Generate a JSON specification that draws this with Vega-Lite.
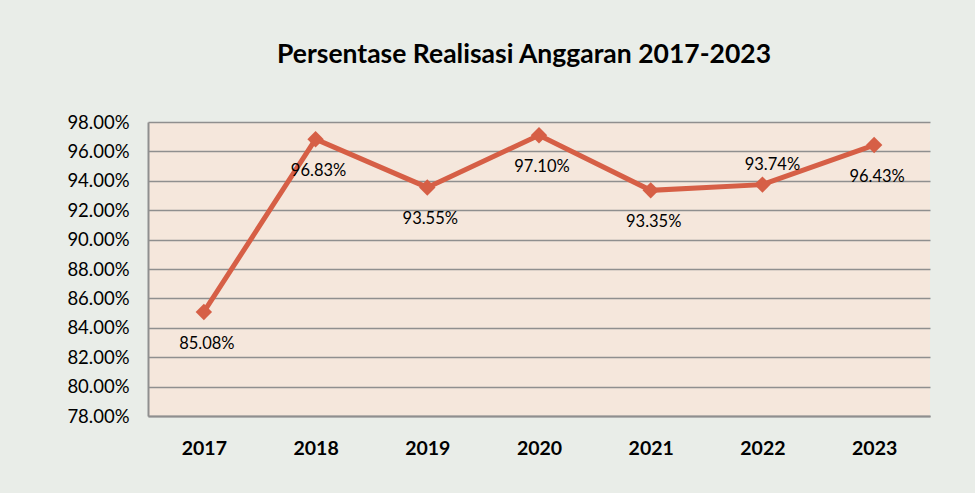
{
  "$schema": "https://vega.github.io/schema/vega-lite/v6.json",
  "autosize": {"type": "none"},
  "width": 782,
  "height": 294,
  "padding": {"left": 148, "top": 122, "right": 45, "bottom": 77},
  "background": "#E9EDE8",
  "title": {
    "text": "Persentase Realisasi Anggaran 2017-2023",
    "font": "Lato",
    "fontSize": 26.5,
    "fontWeight": "bold",
    "color": "#000000",
    "anchor": "middle",
    "dx": -15,
    "offset": 45
  },
  "data": {
    "values": [
      {"tahun": "2017", "persen": 0.8508},
      {"tahun": "2018", "persen": 0.9683},
      {"tahun": "2019", "persen": 0.9355},
      {"tahun": "2020", "persen": 0.9710},
      {"tahun": "2021", "persen": 0.9335},
      {"tahun": "2022", "persen": 0.9374},
      {"tahun": "2023", "persen": 0.9643}
    ]
  },
  "encoding": {
    "x": {
      "field": "tahun",
      "type": "ordinal",
      "scale": {"type": "point", "padding": 0.5},
      "axis": {
        "title": null,
        "labelAngle": 0,
        "labelFont": "Lato",
        "labelFontSize": 19.5,
        "labelFontWeight": "bold",
        "labelColor": "#000000",
        "labelPadding": 23,
        "ticks": false,
        "domainColor": "#8f8f8f",
        "domainWidth": 2,
        "grid": false
      }
    },
    "y": {
      "field": "persen",
      "type": "quantitative",
      "scale": {"domain": [0.78, 0.98], "nice": false, "zero": false},
      "axis": {
        "title": null,
        "values": [0.78, 0.80, 0.82, 0.84, 0.86, 0.88, 0.90, 0.92, 0.94, 0.96, 0.98],
        "format": ".2%",
        "labelFont": "Lato",
        "labelFontSize": 18.5,
        "labelColor": "#000000",
        "labelPadding": 19,
        "ticks": false,
        "domainColor": "#8f8f8f",
        "domainWidth": 2,
        "grid": true,
        "gridColor": "#8f8f8f",
        "gridWidth": 1.6
      }
    }
  },
  "layer": [
    {
      "mark": {"type": "line", "color": "#D65F46", "strokeWidth": 5}
    },
    {
      "mark": {"type": "point", "shape": "diamond", "filled": true, "opacity": 1, "size": 270, "color": "#D65F46"}
    },
    {
      "transform": [{"filter": "datum.tahun != '2022'"}],
      "mark": {"type": "text", "font": "Lato", "fontSize": 16.5, "color": "#000000", "dy": 32, "dx": 3},
      "encoding": {"text": {"field": "persen", "type": "quantitative", "format": ".2%"}}
    },
    {
      "transform": [{"filter": "datum.tahun == '2022'"}],
      "mark": {"type": "text", "font": "Lato", "fontSize": 16.5, "color": "#000000", "dy": -20, "dx": 10},
      "encoding": {"text": {"field": "persen", "type": "quantitative", "format": ".2%"}}
    }
  ],
  "config": {
    "view": {"fill": "#F5E7DC", "stroke": null}
  }
}
